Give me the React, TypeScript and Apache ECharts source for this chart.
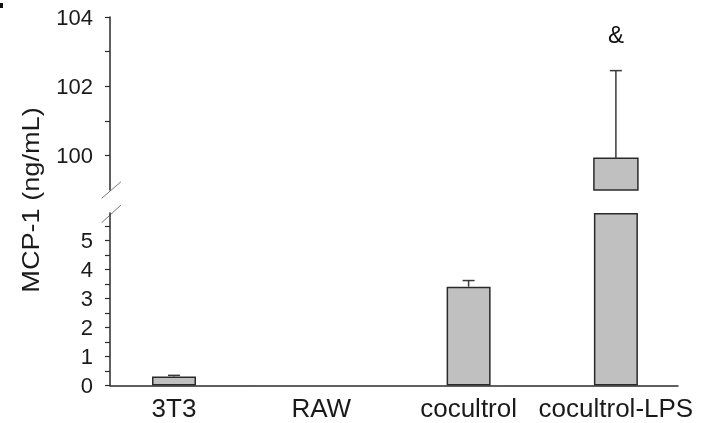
import React, { useEffect, useRef } from "react";
import * as echarts from "echarts";

const categories = ["3T3", "RAW", "cocultrol", "cocultrol-LPS"];
const means = [0.31, 0, 3.41, 99.92];
const errors = [0.04, 0, 0.21, 2.53];
const annotations = ["", "", "", "&"];
const upperMin = 99;
const upperMax = 104;
const lowerMin = 0;
const lowerMax = 5.95;
const upperTicks = [100, 101, 102, 103, 104];
const upperLabels = [100, 102, 104];
const lowerTicks = [0, 0.5, 1, 1.5, 2, 2.5, 3, 3.5, 4, 4.5, 5, 5.5];
const lowerLabels = [0, 1, 2, 3, 4, 5];
const xTicks = [0, 1, 2, 3];

const FONT = "Liberation Sans, Arial, sans-serif";
const AXIS_COLOR = "#2b2b2b";
const BAR_FILL = "#c0c0c0";
const BAR_BORDER = "#2a2a2a";
const BAR_WIDTH = 44;

export default function App() {
  const ref = useRef<HTMLDivElement>(null);
  useEffect(() => {
    if (!ref.current) return;
    const chart = echarts.init(ref.current, undefined, { renderer: "svg" });

    const lowerBars = means
      .map((m, i) => (m > 0 ? [i, Math.min(m, lowerMax)] : null))
      .filter(Boolean);
    const upperBars = means
      .map((m, i) => (m >= upperMin ? [i, Math.min(m, upperMax)] : null))
      .filter(Boolean);
    const lowerErr = means
      .map((m, i) => (m > 0 && m + errors[i] <= lowerMax ? [i, m, m + errors[i], i] : null))
      .filter(Boolean);
    const upperErr = means
      .map((m, i) => (m >= upperMin ? [i, m, m + errors[i], i] : null))
      .filter(Boolean);

    const errRender = (params: any, api: any) => {
      const x = api.value(0);
      const m = api.value(1);
      const t = api.value(2);
      const idx = api.value(3);
      const p0 = api.coord([x, m]);
      const p1 = api.coord([x, t]);
      const style = { stroke: "#3a3a3a", lineWidth: 1.5 };
      const children: any[] = [
        { type: "line", shape: { x1: p0[0], y1: p0[1], x2: p1[0], y2: p1[1] }, style },
        { type: "line", shape: { x1: p1[0] - 6, y1: p1[1], x2: p1[0] + 6, y2: p1[1] }, style },
      ];
      const ann = annotations[idx];
      if (ann) {
        children.push({
          type: "text",
          x: p1[0],
          y: p1[1] - 36,
          style: {
            text: ann,
            font: `24px ${FONT}`,
            fill: "#111",
            align: "center",
            verticalAlign: "middle",
          },
        });
      }
      return { type: "group", children };
    };

    // upper broken-axis segment: bar drawn from the segment's bottom (upperMin) up to the value
    const upperBarRender = (params: any, api: any) => {
      const x = api.value(0);
      const v = api.value(1);
      const pTop = api.coord([x, v]);
      const pBot = api.coord([x, upperMin]);
      return {
        type: "rect",
        shape: {
          x: pTop[0] - BAR_WIDTH / 2,
          y: pTop[1],
          width: BAR_WIDTH,
          height: pBot[1] - pTop[1],
        },
        style: { fill: BAR_FILL, stroke: BAR_BORDER, lineWidth: 1.5 },
      };
    };

    const xBase = {
      type: "value",
      min: -0.4345,
      max: 3.4216,
      splitLine: { show: false },
    };

    const yAxisCommon = {
      type: "value",
      splitLine: { show: false },
      axisLine: { show: true, onZero: false, lineStyle: { color: AXIS_COLOR, width: 1.5 } },
    };
    const yLabelStyle = {
      fontFamily: FONT,
      fontSize: 22,
      color: "#1a1a1a",
      margin: 17,
    };

    chart.setOption({
      animation: false,
      grid: [
        { left: 110, right: 24, top: 17, height: 173 },
        { left: 110, right: 24, top: 213, height: 172.5 },
      ],
      xAxis: [
        { ...xBase, gridIndex: 0, show: false },
        {
          ...xBase,
          gridIndex: 1,
          axisLine: { show: true, onZero: false, lineStyle: { color: AXIS_COLOR, width: 1.5 } },
          axisTick: { show: false },
          axisLabel: {
            customValues: xTicks,
            formatter: (v: number) => categories[Math.round(v)] ?? "",
            fontFamily: FONT,
            fontSize: 26,
            color: "#1a1a1a",
            margin: 9,
            hideOverlap: false,
          },
        },
      ],
      yAxis: [
        {
          ...yAxisCommon,
          gridIndex: 0,
          min: upperMin,
          max: upperMax,
          interval: 1,
          axisTick: { show: true, customValues: upperTicks, length: 5, lineStyle: { color: AXIS_COLOR, width: 1.2 } },
          axisLabel: { ...yLabelStyle, customValues: upperLabels },
        },
        {
          ...yAxisCommon,
          gridIndex: 1,
          min: lowerMin,
          max: lowerMax,
          axisTick: { show: true, customValues: lowerTicks, length: 5, lineStyle: { color: AXIS_COLOR, width: 1.2 } },
          axisLabel: { ...yLabelStyle, customValues: lowerLabels },
        },
      ],
      series: [
        {
          type: "bar",
          xAxisIndex: 1,
          yAxisIndex: 1,
          data: lowerBars,
          barWidth: BAR_WIDTH,
          clip: false,
          itemStyle: { color: BAR_FILL, borderColor: BAR_BORDER, borderWidth: 1.5 },
        },
        {
          type: "custom",
          xAxisIndex: 0,
          yAxisIndex: 0,
          data: upperBars,
          renderItem: upperBarRender,
          clip: false,
        },
        {
          type: "custom",
          xAxisIndex: 1,
          yAxisIndex: 1,
          data: lowerErr,
          renderItem: errRender,
          clip: false,
          z: 5,
        },
        {
          type: "custom",
          xAxisIndex: 0,
          yAxisIndex: 0,
          data: upperErr,
          renderItem: errRender,
          clip: false,
          z: 5,
        },
      ],
      graphic: [
        {
          type: "text",
          x: 31,
          y: 200,
          rotation: Math.PI / 2,
          scaleX: 1.18,
          style: {
            text: "MCP-1 (ng/mL)",
            font: `23px ${FONT}`,
            fill: "#1a1a1a",
            align: "center",
            verticalAlign: "middle",
          },
        },
        { type: "line", shape: { x1: 101.7, y1: 198.3, x2: 121, y2: 181.7 }, style: { stroke: "#777", lineWidth: 1 } },
        { type: "line", shape: { x1: 101.7, y1: 222.7, x2: 121, y2: 205 }, style: { stroke: "#777", lineWidth: 1 } },
        { type: "rect", shape: { x: 0, y: 3, width: 3, height: 5 }, style: { fill: "#111" } },
      ],
    });
    return () => chart.dispose();
  }, []);
  return (
    <div
      ref={ref}
      style={{ position: "fixed", left: 0, top: 0, width: 702, height: 423 }}
    />
  );
}
